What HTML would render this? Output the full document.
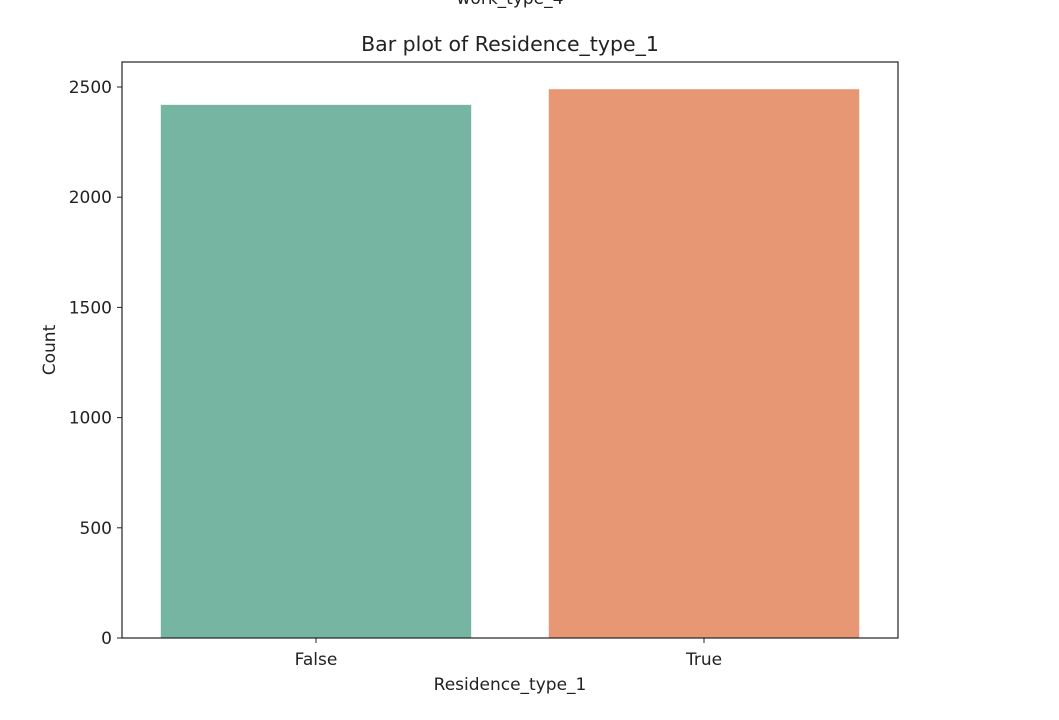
<!DOCTYPE html>
<html><head><meta charset="utf-8"><style>
body{margin:0;background:#fff;width:1059px;height:715px;overflow:hidden}
svg text{font-family:"DejaVu Sans","Liberation Sans",sans-serif;fill:#222}
</style></head><body>
<svg id="chart" width="1059" height="715" xmlns="http://www.w3.org/2000/svg">
<text x="510" y="4" font-size="17" text-anchor="middle">work_type_4</text>
<text x="510" y="51" font-size="20.5" text-anchor="middle">Bar plot of Residence_type_1</text>
<g id="bars"></g>
<g id="yticks"></g>
<g id="xticks"></g>
<rect x="122" y="62" width="776" height="576" fill="none" stroke="#222" stroke-width="1.2"/>
<text x="510" y="690" font-size="17" text-anchor="middle">Residence_type_1</text>
<text x="0" y="0" font-size="17" text-anchor="middle" transform="translate(55,350) rotate(-90)">Count</text>
</svg>
<script>
const categories=["False","True"];
const counts=[2419,2490];
const colors=["#75b5a1","#e89775"];
const yTicks=[0,500,1000,1500,2000,2500];
const L=122,R=898,B=638;
const yScale=v=>B-v*(551/2500);
const band=(R-L)/categories.length;
const xCenter=i=>L+band*(i+0.5);
const NS="http://www.w3.org/2000/svg";
const bars=document.getElementById('bars'),yt=document.getElementById('yticks'),xt=document.getElementById('xticks');
categories.forEach((c,i)=>{
  const r=document.createElementNS(NS,'rect');
  const w=band*0.8;
  r.setAttribute('x',xCenter(i)-w/2);r.setAttribute('width',w);
  r.setAttribute('y',yScale(counts[i]));r.setAttribute('height',B-yScale(counts[i]));
  r.setAttribute('fill',colors[i]);
  
  
  bars.appendChild(r);
  const l=document.createElementNS(NS,'line');
  l.setAttribute('x1',xCenter(i));l.setAttribute('x2',xCenter(i));l.setAttribute('y1',B);l.setAttribute('y2',B+5);l.setAttribute('stroke','#222');
  
  
  xt.appendChild(l);
  const t=document.createElementNS(NS,'text');
  t.setAttribute('x',xCenter(i));t.setAttribute('y',B+27);t.setAttribute('font-size','17');t.setAttribute('text-anchor','middle');
  t.textContent=c;
  
  
  xt.appendChild(t);
});
yTicks.forEach(v=>{
  const y=yScale(v);
  const l=document.createElementNS(NS,'line');
  l.setAttribute('x1',L-5);l.setAttribute('x2',L);l.setAttribute('y1',y);l.setAttribute('y2',y);l.setAttribute('stroke','#222');
  
  
  yt.appendChild(l);
  const t=document.createElementNS(NS,'text');
  t.setAttribute('x',L-10);t.setAttribute('y',y+6);t.setAttribute('font-size','17');t.setAttribute('text-anchor','end');
  t.textContent=v;
  
  
  yt.appendChild(t);
});
</script>
</body></html>
